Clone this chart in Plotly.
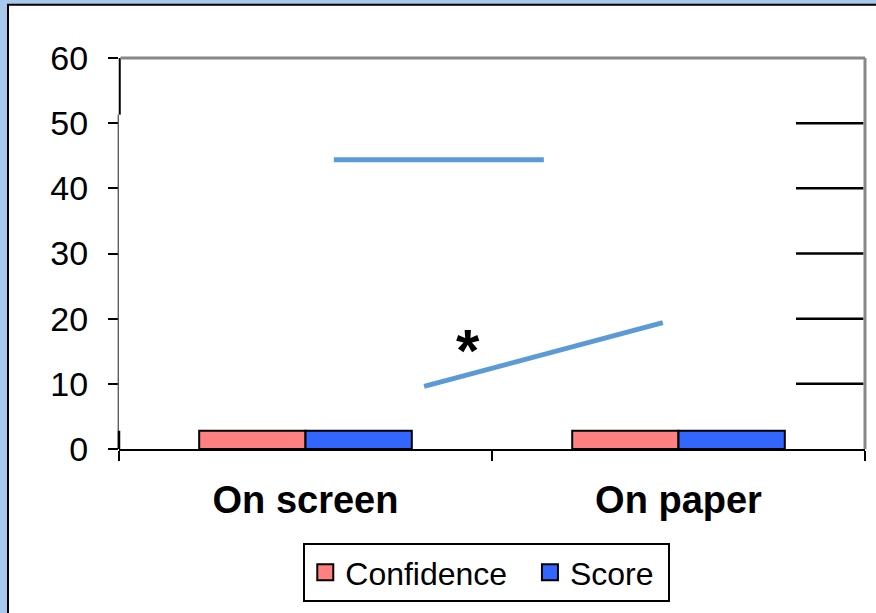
import plotly.graph_objects as go

categories = ["On screen", "On paper"]
confidence = [2.8, 2.8]
score = [2.8, 2.8]
y_ticks = [0, 10, 20, 30, 40, 50, 60]
stub_ticks = [10, 20, 30, 40, 50]
legend_names = ["Confidence", "Score"]

# hand-drawn trend lines (x in category units, -0.5..1.5)
line1_x = [0.076, 0.639]
line1_y = [44.4, 44.4]
line2_x = [0.318, 0.958]
line2_y = [9.6, 19.4]
star_x = 0.436
star_y = 15.1

PINK = "#FF8080"
BLUE = "#3366FF"
LINE = "#5B9BD5"
FONT = "Liberation Sans, Arial, sans-serif"

fig = go.Figure()
fig.add_trace(go.Bar(x=categories, y=confidence, name=legend_names[0], marker=dict(color=PINK, line=dict(color="black", width=2)), showlegend=False))
fig.add_trace(go.Bar(x=categories, y=score, name=legend_names[1], marker=dict(color=BLUE, line=dict(color="black", width=2)), showlegend=False))
fig.add_trace(go.Scatter(x=line1_x, y=line1_y, xaxis="x2", mode="lines", line=dict(color=LINE, width=5), showlegend=False, hoverinfo="skip"))
fig.add_trace(go.Scatter(x=line2_x, y=line2_y, xaxis="x2", mode="lines", line=dict(color=LINE, width=5), showlegend=False, hoverinfo="skip"))
# legend entries
fig.add_trace(go.Scatter(x=[None], y=[None], mode="markers", name=legend_names[0] + "\u00a0\u00a0",
                         marker=dict(symbol="square", size=16, color=PINK, line=dict(color="black", width=2))))
fig.add_trace(go.Scatter(x=[None], y=[None], mode="markers", name=legend_names[1] + "\u00a0",
                         marker=dict(symbol="square", size=16, color=BLUE, line=dict(color="black", width=2))))

fig.add_annotation(x=star_x, y=star_y, xref="x2", yref="y", text="<b>*</b>", showarrow=False,
                   font=dict(family=FONT, size=60, color="black"), yanchor="middle")

shapes = [
    # outer frame
    dict(type="rect", xref="paper", yref="paper", x0=-0.1488, x1=1.5, y0=-1, y1=1.136,
         fillcolor="white", line=dict(color="black", width=2), layer="below"),
    # y-axis pieces
    dict(type="line", xref="paper", yref="y", x0=-0.001, x1=-0.001, y0=0, y1=51.3,
         line=dict(color="#444444", width=1.2), layer="above"),
    dict(type="line", xref="paper", yref="y", x0=0.001, x1=0.001, y0=51.3, y1=60,
         line=dict(color="black", width=2), layer="above"),
    dict(type="line", xref="paper", yref="y", x0=0, x1=0, y0=-1.7, y1=2.8,
         line=dict(color="black", width=2.5), layer="above"),
    # gray top/right border
    dict(type="line", xref="paper", yref="paper", x0=0.002, x1=1.0, y0=1, y1=1,
         line=dict(color="#888888", width=3), layer="above"),
    dict(type="line", xref="paper", yref="paper", x0=1.0, x1=1.0, y0=0, y1=1,
         line=dict(color="#888888", width=3), layer="above"),
]
# visible gridline stubs at the right edge
for v in stub_ticks:
    shapes.append(dict(type="line", xref="paper", yref="y", x0=0.9075, x1=0.998, y0=v, y1=v,
                       line=dict(color="black", width=2.5), layer="below"))

fig.update_layout(
    width=876, height=613,
    margin=dict(l=119, r=11, t=58, b=162),
    paper_bgcolor="#A8C8EC",
    plot_bgcolor="rgba(0,0,0,0)",
    font=dict(family=FONT, color="black"),
    barmode="group", bargap=0.43, bargroupgap=0,
    shapes=shapes,
    showlegend=True,
    legend=dict(orientation="h", x=0.493, xanchor="center", y=-0.24, yanchor="top",
                bgcolor="white", bordercolor="black", borderwidth=2,
                font=dict(family=FONT, size=32, color="black"), itemwidth=30),
    xaxis=dict(type="category", range=[-0.5, 1.5], tickson="boundaries", ticks="outside",
               ticklen=10, tickwidth=2, tickcolor="black", showline=True, linecolor="black",
               linewidth=2, showgrid=False, tickfont=dict(family=FONT, size=38),
               ticklabelstandoff=16, tickprefix="<b>", ticksuffix="</b>"),
    xaxis2=dict(overlaying="x", range=[-0.5, 1.5], visible=False),
    yaxis=dict(range=[0, 60], tickvals=y_ticks, ticks="outside", ticklen=10, tickwidth=2,
               tickcolor="black", showline=False, showgrid=False, zeroline=False,
               tickfont=dict(family=FONT, size=34), ticklabelstandoff=13),
)

fig.write_html("out.html", post_script="document.body.style.margin='0';",
               config={"displayModeBar": False})
